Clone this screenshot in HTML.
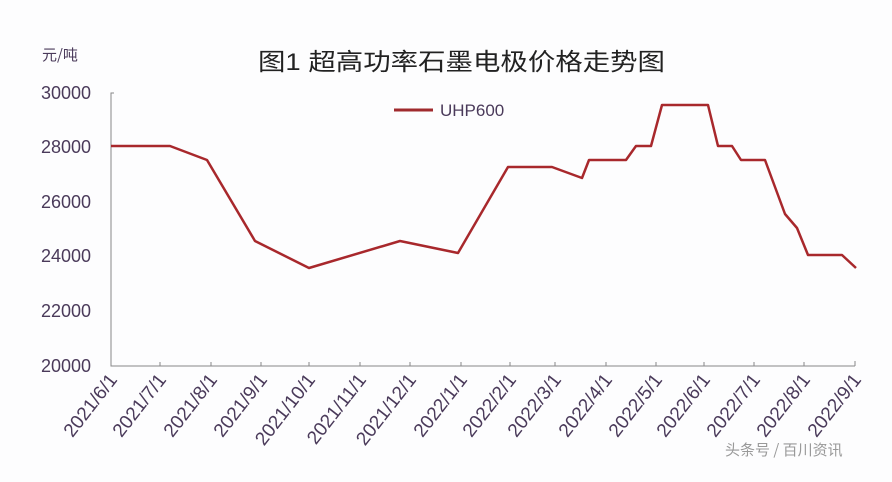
<!DOCTYPE html>
<html><head><meta charset="utf-8"><style>
html,body{margin:0;padding:0;background:#fdfdfe;}
svg{display:block;font-family:"Liberation Sans","Noto Sans CJK SC",sans-serif;}
</style></head><body>
<svg width="892" height="482" viewBox="0 0 892 482" xmlns="http://www.w3.org/2000/svg">
<rect width="892" height="482" fill="#fdfdfe"/>
<text x="258" y="70" font-size="24" fill="#222" textLength="407" lengthAdjust="spacingAndGlyphs">图1 超高功率石墨电极价格走势图</text>
<text x="42" y="60" font-size="15" fill="#4a3a5a" font-family="Noto Sans CJK SC,sans-serif">元/吨</text>
<g font-size="18" fill="#4a3a5a" text-anchor="end">
<text x="91" y="99">30000</text>
<text x="91" y="153">28000</text>
<text x="91" y="208">26000</text>
<text x="91" y="262">24000</text>
<text x="91" y="317">22000</text>
<text x="91" y="372">20000</text>
</g>
<g stroke="#888" stroke-width="1" fill="none">
<path d="M114 93H111V366H855"/>
<path d="M160 366v-4M211 366v-4M261 366v-4M309 366v-4M360 366v-4M410 366v-4M461 366v-4M510 366v-4M555 366v-4M606 366v-4M656 366v-4M704 366v-4M754 366v-4M804 366v-4M855 366v-5"/>
</g>
<line x1="394" y1="110" x2="433" y2="110" stroke="#a02a2e" stroke-width="3"/>
<text x="440" y="116" font-size="17" fill="#4a3a5a">UHP600</text>
<polyline fill="none" stroke="#a8282c" stroke-width="2.5" stroke-linejoin="round" points="111,146 170,146 207,160 255,241 309,268 400,241 458,253 508,167 552,167 582,178 589,160 626,160 636,146 651,146 662,105 708,105 718,146 732,146 741,160 765,160 785,214 797,228 808,255 842,255 856,268"/>
<g font-size="19" fill="#4a3a5a" text-anchor="end">
<text transform="translate(118,380) rotate(-52)">2021/6/1</text>
<text transform="translate(167,380) rotate(-52)">2021/7/1</text>
<text transform="translate(218,380) rotate(-52)">2021/8/1</text>
<text transform="translate(268,380) rotate(-52)">2021/9/1</text>
<text transform="translate(316,380) rotate(-52)">2021/10/1</text>
<text transform="translate(367,380) rotate(-52)">2021/11/1</text>
<text transform="translate(417,380) rotate(-52)">2021/12/1</text>
<text transform="translate(468,380) rotate(-52)">2022/1/1</text>
<text transform="translate(517,380) rotate(-52)">2022/2/1</text>
<text transform="translate(562,380) rotate(-52)">2022/3/1</text>
<text transform="translate(613,380) rotate(-52)">2022/4/1</text>
<text transform="translate(663,380) rotate(-52)">2022/5/1</text>
<text transform="translate(711,380) rotate(-52)">2022/6/1</text>
<text transform="translate(761,380) rotate(-52)">2022/7/1</text>
<text transform="translate(811,380) rotate(-52)">2022/8/1</text>
<text transform="translate(862,380) rotate(-52)">2022/9/1</text>
</g>
<text x="725" y="455" font-size="15" fill="#999" font-family="Noto Sans CJK SC,sans-serif">头条号 / 百川资讯</text>
</svg>
</body></html>
